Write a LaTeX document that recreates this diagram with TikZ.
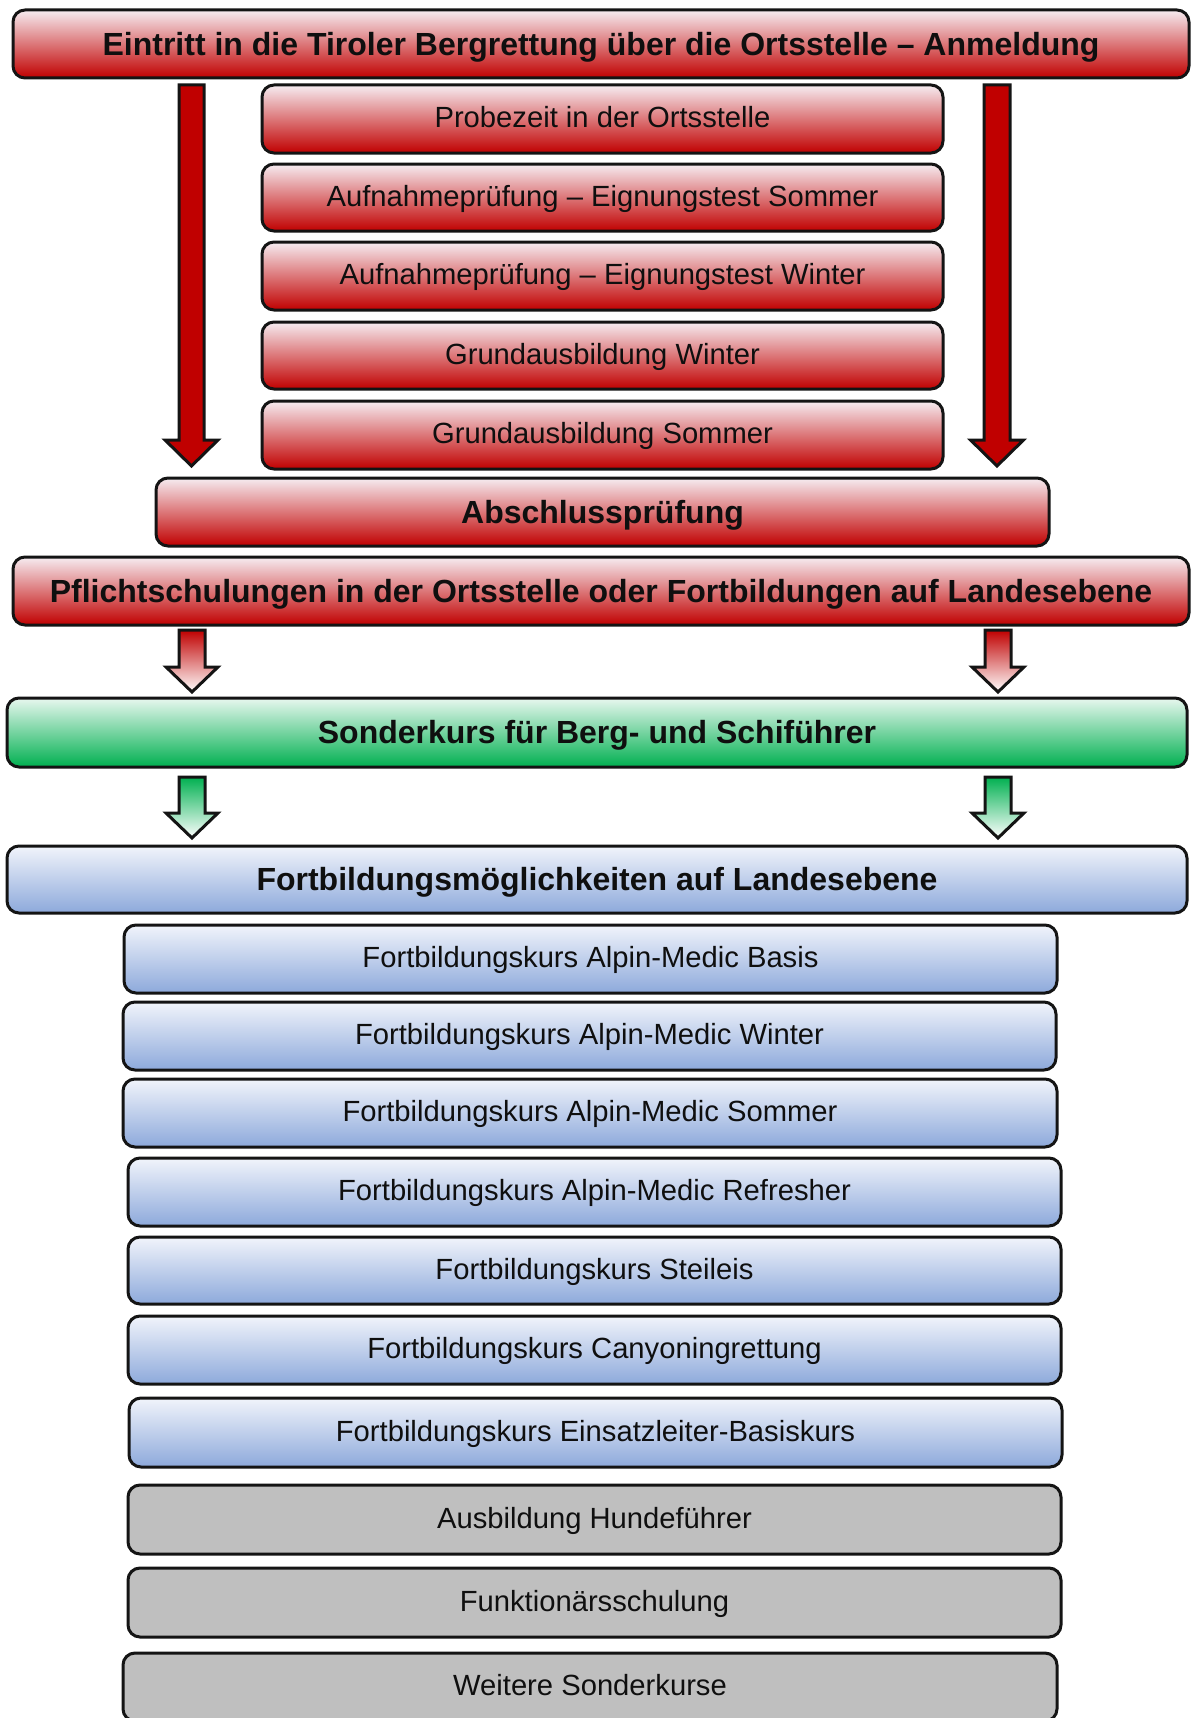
\documentclass[tikz,border=0pt]{standalone}
\usepackage{fontspec}
\setmainfont{Liberation Sans}
\definecolor{dkred}{RGB}{192,0,0}
\definecolor{ltred}{RGB}{246,236,241}
\definecolor{dkgreen}{RGB}{0,176,80}
\definecolor{ltgreen}{RGB}{232,247,239}
\definecolor{dkblue}{RGB}{141,169,219}
\definecolor{ltblue}{RGB}{241,244,251}
\definecolor{boxgray}{RGB}{191,191,191}
\definecolor{edge}{RGB}{20,20,20}
\definecolor{txt}{RGB}{15,15,15}
\tikzset{
  basebox/.style={draw=edge, line width=1.5pt, rounded corners=6pt, inner sep=0pt,
    text=txt, align=center, font=\fontsize{14.6}{17}\selectfont,
    text height=11.7pt, text depth=3.1pt},
  boldtext/.style={font=\fontsize{16}{19}\selectfont\bfseries,
    text height=14.5pt, text depth=3.4pt},
  redbox/.style={basebox, top color=ltred, bottom color=dkred, middle color={rgb,255:red,220;green,118;blue,120}},
  greenbox/.style={basebox, top color=ltgreen, bottom color=dkgreen},
  bluebox/.style={basebox, top color=ltblue, bottom color=dkblue},
  graybox/.style={basebox, fill=boxgray},
  bigarrow/.style={draw=edge, line width=1.5pt, line join=miter, fill=dkred},
  redarrow/.style={draw=edge, line width=1.5pt, line join=miter, top color=dkred, bottom color=white},
  greenarrow/.style={draw=edge, line width=1.5pt, line join=miter, top color=dkgreen, bottom color=white},
}
\newcommand\bx[7]{%
  \pgfmathsetmacro\bxcx{(#3+#5)/2}%
  \pgfmathsetmacro\bxcy{(#4+#6)/2}%
  \pgfmathsetmacro\bxw{(#5-#3)*0.5}%
  \pgfmathsetmacro\bxh{(#6-#4)*0.5}%
  \node[#1, minimum width=\bxw pt, minimum height=\bxh pt] (#2) at (\bxcx,\bxcy) {#7};}
% style, cx, top, headtop, tip, halfshaft, halfhead
\newcommand\barrow[7]{%
  \path[#1, shift={(#2,0)}] (-#6,#3) -- (#6,#3) -- (#6,#4) -- (#7,#4) -- (0,#5)
    -- (-#7,#4) -- (-#6,#4) -- cycle;}
\begin{document}
\begin{tikzpicture}[x=0.5pt, y=-0.5pt]
\useasboundingbox (0,0) rectangle (1190,1718);
% big red arrows
\barrow{bigarrow}{191.5}{85}{440}{466}{12.5}{26.5}
\barrow{bigarrow}{997}{85}{440}{466}{13}{26.5}
% red boxes
\bx{redbox, boldtext}{entry}{13}{10}{1189}{78}{Eintritt in die Tiroler Bergrettung über die Ortsstelle – Anmeldung}
\bx{redbox}{probe}{262}{85}{943}{153}{Probezeit in der Ortsstelle}
\bx{redbox}{aufS}{262}{164}{943}{231}{Aufnahmeprüfung – Eignungstest Sommer}
\bx{redbox}{aufW}{262}{242}{943}{310}{Aufnahmeprüfung – Eignungstest Winter}
\bx{redbox}{gruW}{262}{322}{943}{389}{Grundausbildung Winter}
\bx{redbox}{gruS}{262}{401}{943}{469}{Grundausbildung Sommer}
\bx{redbox, boldtext}{absch}{156}{478}{1049}{546}{Abschlussprüfung}
\bx{redbox, boldtext}{pflicht}{13}{557}{1189}{625}{Pflichtschulungen in der Ortsstelle oder Fortbildungen auf Landesebene}
% small red arrows
\barrow{redarrow}{192}{630}{667}{692}{13}{26}
\barrow{redarrow}{998}{630}{667}{692}{13}{26}
% green box
\bx{greenbox, boldtext}{sonder}{7}{698}{1187}{767}{Sonderkurs für Berg- und Schiführer}
% green arrows
\barrow{greenarrow}{192}{777}{813}{838}{13}{26}
\barrow{greenarrow}{998}{777}{813}{838}{13}{26}
% blue boxes
\bx{bluebox, boldtext}{fort}{7}{846}{1187}{913}{Fortbildungsmöglichkeiten auf Landesebene}
\bx{bluebox}{f1}{124}{925}{1057}{993}{Fortbildungskurs Alpin-Medic Basis}
\bx{bluebox}{f2}{123}{1002}{1056}{1070}{Fortbildungskurs Alpin-Medic Winter}
\bx{bluebox}{f3}{123}{1079}{1057}{1147}{Fortbildungskurs Alpin-Medic Sommer}
\bx{bluebox}{f4}{128}{1158}{1061}{1226}{Fortbildungskurs Alpin-Medic Refresher}
\bx{bluebox}{f5}{128}{1237}{1061}{1304}{Fortbildungskurs Steileis}
\bx{bluebox}{f6}{128}{1316}{1061}{1384}{Fortbildungskurs Canyoningrettung}
\bx{bluebox}{f7}{129}{1398}{1062}{1467}{Fortbildungskurs Einsatzleiter-Basiskurs}
% gray boxes
\bx{graybox}{hund}{128}{1485}{1061}{1554}{Ausbildung Hundeführer}
\bx{graybox}{funk}{128}{1568}{1061}{1637}{Funktionärsschulung}
\bx{graybox}{weit}{123}{1653}{1057}{1721}{Weitere Sonderkurse}
\end{tikzpicture}
\end{document}
